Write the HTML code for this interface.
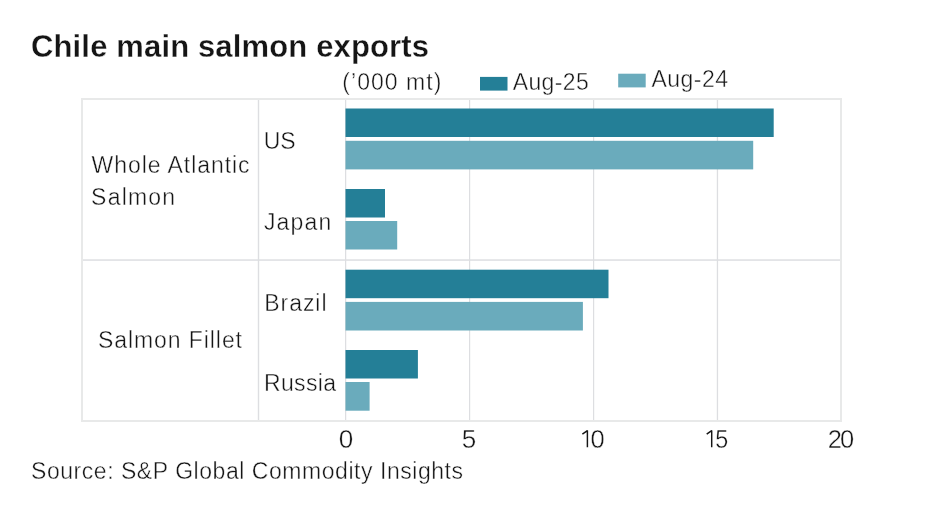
<!DOCTYPE html>
<html><head><meta charset="utf-8">
<style>
html,body{margin:0;padding:0;background:#fff;width:937px;height:511px;overflow:hidden}
svg{display:block;will-change:transform}
text{font-family:"Liberation Sans",sans-serif;fill:#151515;stroke:#fff;stroke-width:0.4px}
.b{stroke-width:0.3px}
</style></head>
<body>
<svg width="937" height="511" viewBox="0 0 937 511">
<rect x="0" y="0" width="937" height="511" fill="#fff"/>
<text x="31" y="57" font-size="31" textLength="398" lengthAdjust="spacing" font-weight="bold" fill="#111" class="b">Chile main salmon exports</text>
<text x="342.3" y="89.9" font-size="23" textLength="99" lengthAdjust="spacing">(’000 mt)</text>
<rect x="480" y="76.9" width="27.5" height="13.7" fill="#247f97"/>
<text x="512.7" y="90.2" font-size="23" textLength="76" lengthAdjust="spacing">Aug-25</text>
<rect x="618.2" y="73.7" width="27.5" height="13.7" fill="#6aabbc"/>
<text x="651.5" y="87" font-size="23" textLength="76.5" lengthAdjust="spacing">Aug-24</text>
<g fill="#e8e9e9">
<rect x="81" y="98" width="761" height="2"/>
<rect x="81" y="420" width="761" height="2"/>
<rect x="81" y="98" width="2" height="324"/>
<rect x="840" y="98" width="2" height="324"/>
</g>
<g fill="#dddee1">
<rect x="83" y="259.3" width="757" height="1.5"/>
<rect x="257.8" y="100" width="1.4" height="320"/>
<rect x="345" y="100" width="1.25" height="320"/>
<rect x="469" y="100" width="1.2" height="320"/>
<rect x="593" y="100" width="1.2" height="320"/>
<rect x="716.8" y="100" width="1.3" height="320"/>
</g>
<g fill="#247f97">
<rect x="345.5" y="108.5" width="428.2" height="28.5"/>
<rect x="345.5" y="189" width="39.5" height="28.5"/>
<rect x="345.5" y="269.7" width="263" height="28.5"/>
<rect x="345.5" y="350" width="72.4" height="28.5"/>
</g>
<g fill="#6aabbc">
<rect x="345.5" y="140.8" width="407.7" height="28.6"/>
<rect x="345.5" y="221" width="51.7" height="28.5"/>
<rect x="345.5" y="301.9" width="237.4" height="28.6"/>
<rect x="345.5" y="382" width="24.1" height="28.7"/>
</g>
<text x="91.6" y="173" font-size="23" textLength="158" lengthAdjust="spacing">Whole Atlantic</text>
<text x="91.1" y="205" font-size="23" textLength="84" lengthAdjust="spacing">Salmon</text>
<text x="98" y="347.7" font-size="23" textLength="144" lengthAdjust="spacing">Salmon Fillet</text>
<text x="263.7" y="149.3" font-size="23" textLength="32" lengthAdjust="spacing">US</text>
<text x="263.9" y="230.3" font-size="23" textLength="67.5" lengthAdjust="spacing">Japan</text>
<text x="264.3" y="311" font-size="23" textLength="62.2" lengthAdjust="spacing">Brazil</text>
<text x="264.0" y="391" font-size="23" textLength="72" lengthAdjust="spacing">Russia</text>
<text x="338.8" y="447.8" font-size="25.5" textLength="14.5" lengthAdjust="spacingAndGlyphs">0</text>
<text x="461.8" y="447.8" font-size="25.5" textLength="14.5" lengthAdjust="spacingAndGlyphs">5</text>
<path d="M587.4 447.3V430.6L582.4 434.2M711.7 447.3V430.6L706.7 434.2" fill="none" stroke="#151515" stroke-width="1.45" stroke-linejoin="bevel"/>
<text x="590.6" y="447.8" font-size="25.5" textLength="14.2" lengthAdjust="spacingAndGlyphs">0</text>
<text x="715.3" y="447.8" font-size="25.5" textLength="13.0" lengthAdjust="spacingAndGlyphs">5</text>
<text x="827.8" y="447.8" font-size="25.5" textLength="26.5" lengthAdjust="spacing">20</text>
<text x="31" y="478.7" font-size="23" textLength="432" lengthAdjust="spacing">Source: S&amp;P Global Commodity Insights</text>
</svg>
</body></html>
